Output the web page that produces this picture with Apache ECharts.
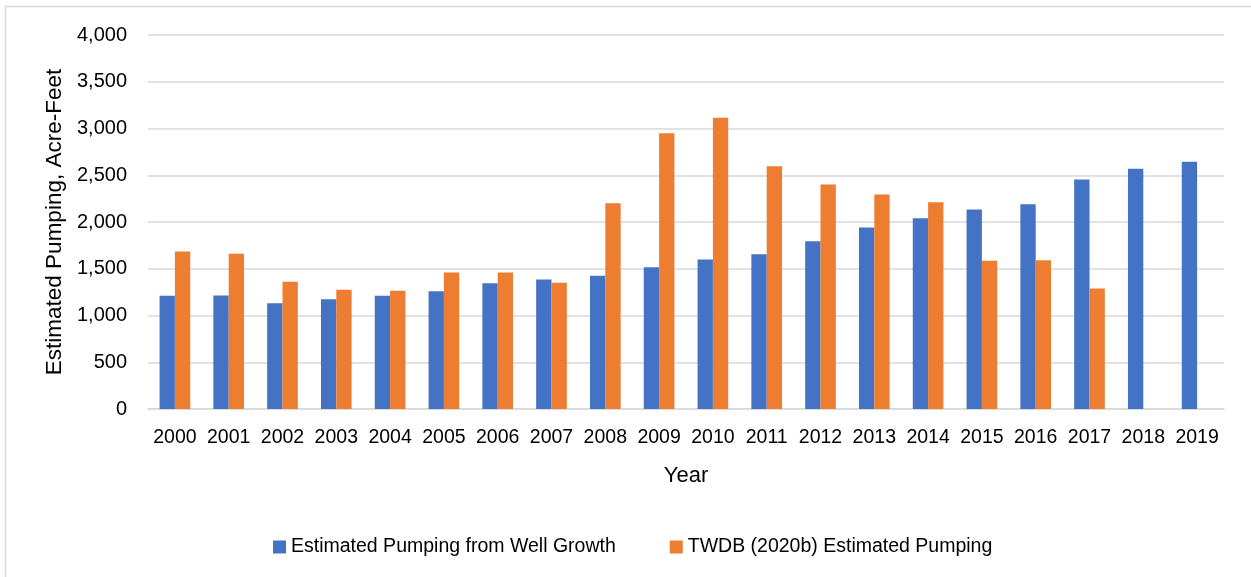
<!DOCTYPE html>
<html>
<head>
<meta charset="utf-8">
<title>Estimated Pumping</title>
<script src="https://cdn.jsdelivr.net/npm/echarts@6/dist/echarts.min.js"></script>
<style>
  html, body { margin: 0; padding: 0; background: #ffffff; }
  #chart { width: 1251px; height: 577px; }
</style>
</head>
<body>
<div id="chart"></div>
<script>
// Years on the category axis
const years = ['2000','2001','2002','2003','2004','2005','2006','2007','2008','2009',
               '2010','2011','2012','2013','2014','2015','2016','2017','2018','2019'];

// Pumping estimated from well growth (acre-feet)
const wellGrowth = [1210, 1215, 1130, 1175, 1210, 1260, 1345, 1385, 1425, 1515,
                    1600, 1655, 1795, 1940, 2040, 2135, 2190, 2455, 2570, 2645];

// TWDB (2020b) estimated pumping (acre-feet); no values for 2018-2019
const twdb = [1685, 1660, 1360, 1275, 1265, 1460, 1460, 1350, 2200, 2950,
              3115, 2595, 2400, 2295, 2210, 1585, 1590, 1290, null, null];

const seriesNames = ['Estimated Pumping from Well Growth', 'TWDB (2020b) Estimated Pumping'];
const yAxisTitle = 'Estimated Pumping, Acre-Feet';
const xAxisTitle = 'Year';

const FONT = "'Liberation Sans', Arial, sans-serif";
const TEXT = '#000000';
const GRID = '#d9d9d9';

const chart = echarts.init(document.getElementById('chart'), null, { renderer: 'canvas' });

chart.setOption({
  animation: false,
  backgroundColor: '#ffffff',
  textStyle: { fontFamily: FONT, color: TEXT },
  graphic: [
    {
      // outer chart frame (left and top edges visible)
      type: 'rect',
      shape: { x: 5.5, y: 6.5, width: 1400, height: 700 },
      style: { fill: 'none', stroke: GRID, lineWidth: 1.5 },
      silent: true,
      z: -1
    }
  ],
  grid: { left: 148, right: 27, top: 35, bottom: 168, containLabel: false },
  legend: {
    top: 532,
    left: 268,
    itemWidth: 13,
    itemHeight: 13,
    itemGap: 54,
    icon: 'rect',
    textStyle: { fontFamily: FONT, fontSize: 19.5, color: TEXT },
    data: seriesNames
  },
  xAxis: {
    type: 'category',
    data: years,
    name: xAxisTitle,
    nameLocation: 'middle',
    nameGap: 56,
    nameTextStyle: { fontFamily: FONT, fontSize: 22, color: TEXT },
    axisLine: { show: true, lineStyle: { color: GRID, width: 1.5 } },
    axisTick: { show: false },
    axisLabel: { interval: 0, fontFamily: FONT, fontSize: 19.5, color: TEXT, margin: 19 }
  },
  yAxis: {
    type: 'value',
    min: 0,
    max: 4000,
    interval: 500,
    name: yAxisTitle,
    nameLocation: 'middle',
    nameGap: 78,
    nameRotate: 90,
    nameTextStyle: { fontFamily: FONT, fontSize: 22.5, color: TEXT },
    axisLine: { show: false },
    axisTick: { show: false },
    axisLabel: {
      fontFamily: FONT, fontSize: 20, color: TEXT, margin: 21,
      formatter: v => v.toLocaleString('en-US')
    },
    splitLine: { show: true, lineStyle: { color: GRID, width: 1.5 } }
  },
  series: [
    {
      name: seriesNames[0],
      type: 'bar',
      data: wellGrowth,
      itemStyle: { color: '#4472C4' },
      barGap: '0%',
      barCategoryGap: '43%'
    },
    {
      name: seriesNames[1],
      type: 'bar',
      data: twdb,
      itemStyle: { color: '#ED7D31' },
      barGap: '0%',
      barCategoryGap: '43%'
    }
  ]
});
</script>
</body>
</html>
